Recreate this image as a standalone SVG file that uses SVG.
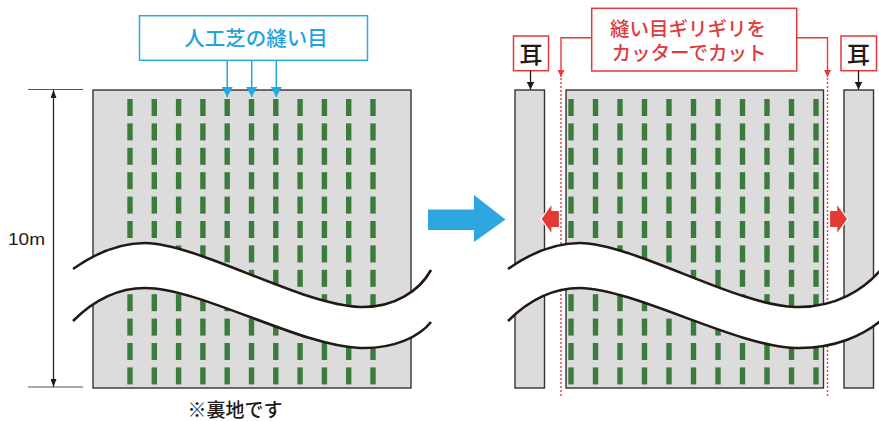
<svg xmlns="http://www.w3.org/2000/svg" width="879" height="421" viewBox="0 0 879 421">
<defs>
<style>
.panel{fill:#dcdcdc;stroke:#333;stroke-width:1.4}
.dash{fill:#3b7b3c}
.wave{fill:none;stroke:#231815;stroke-width:2.6}
.band{fill:#fff;stroke:none}
.jp{font-family:"Noto Sans CJK JP","Noto Sans",sans-serif}
.red{fill:#e23a3c}
.blue{fill:#1fa3dd}
.redline{fill:none;stroke:#e23a3c;stroke-width:1.4}
.dotline{fill:none;stroke:#e8474a;stroke-width:1.5;stroke-dasharray:2 2}
</style>
<marker id="ahBlue" viewBox="0 0 10 11" refX="10" refY="5.5" markerWidth="10" markerHeight="11" markerUnits="userSpaceOnUse" orient="auto"><path d="M0,0 L10,5.5 L0,11 Z" fill="#1fa8e1"/></marker>
<marker id="ahRed" viewBox="0 0 7 7" refX="7" refY="3.5" markerWidth="7" markerHeight="7" markerUnits="userSpaceOnUse" orient="auto"><path d="M0,0 L7,3.5 L0,7 Z" fill="#e23a3c"/></marker>
<marker id="ahBlack" viewBox="0 0 8 8" refX="8" refY="4" markerWidth="8" markerHeight="8" markerUnits="userSpaceOnUse" orient="auto"><path d="M0,0 L8,4 L0,8 Z" fill="#231815"/></marker>
<marker id="ahDim" viewBox="0 0 8 6" refX="8" refY="3" markerWidth="8" markerHeight="6" markerUnits="userSpaceOnUse" orient="auto-start-reverse"><path d="M0,0 L8,3 L0,6 Z" fill="#231815"/></marker>
<g id="colL"><rect class="dash" x="-2.7" y="0" width="5.4" height="17"/><rect class="dash" x="-2.7" y="24.4" width="5.4" height="17"/><rect class="dash" x="-2.7" y="48.8" width="5.4" height="17"/><rect class="dash" x="-2.7" y="73.2" width="5.4" height="17"/><rect class="dash" x="-2.7" y="97.6" width="5.4" height="17"/><rect class="dash" x="-2.7" y="122" width="5.4" height="17"/><rect class="dash" x="-2.7" y="146.4" width="5.4" height="17"/><rect class="dash" x="-2.7" y="170.8" width="5.4" height="17"/><rect class="dash" x="-2.7" y="195.2" width="5.4" height="17"/><rect class="dash" x="-2.7" y="219.6" width="5.4" height="17"/><rect class="dash" x="-2.7" y="244" width="5.4" height="17"/><rect class="dash" x="-2.7" y="268.4" width="5.4" height="17"/></g>
</defs>
<rect width="879" height="421" fill="#fff"/>

<!-- Left panel -->
<g id="left-turf">
<rect class="panel" x="93" y="90" width="318" height="298"/>
<g transform="translate(0,99)">
<use href="#colL" x="130"/><use href="#colL" x="154.3"/><use href="#colL" x="178.6"/><use href="#colL" x="202.9"/><use href="#colL" x="227.2"/><use href="#colL" x="251.5"/><use href="#colL" x="275.8"/><use href="#colL" x="300.1"/><use href="#colL" x="324.4"/><use href="#colL" x="348.7"/><use href="#colL" x="373"/>
</g>
<path class="band" d="M73,269 C97,252 122,243 145,243 C200,244 300,305 360,307 C395,308 420,290 431,270 L431,322 C420,336 395,349 360,348 C300,346 200,288 145,288 C122,288 97,297 73,321 Z"/>
<path class="wave" d="M73,269 C97,252 122,243 145,243 C200,244 300,305 360,307 C395,308 420,290 431,270"/>
<path class="wave" d="M73,321 C97,297 122,288 145,288 C200,288 300,346 360,348 C395,349 420,336 431,322"/>
</g>

<!-- Right panel -->
<g id="right-turf">
<rect class="panel" x="515" y="90" width="29.5" height="298"/>
<rect class="panel" x="566" y="90" width="257.5" height="298"/>
<rect class="panel" x="844" y="90" width="29.5" height="298"/>
<g transform="translate(0,99)">
<use href="#colL" x="571"/><use href="#colL" x="595.5"/><use href="#colL" x="620"/><use href="#colL" x="644.5"/><use href="#colL" x="669"/><use href="#colL" x="693.5"/><use href="#colL" x="718"/><use href="#colL" x="742.5"/><use href="#colL" x="767"/><use href="#colL" x="791.5"/><use href="#colL" x="816"/>
</g>
<line class="dotline" x1="561" y1="78" x2="561" y2="396"/>
<line class="dotline" x1="827.5" y1="78" x2="827.5" y2="396"/>
<path class="band" d="M508,269 C532,252 557,243 580,243 C635,244 735,305 795,307 C835,308 865,290 884,266 L884,318 C865,335 835,349 795,348 C735,346 635,289 580,288 C557,288 532,297 508,321 Z"/>
<path class="wave" d="M508,269 C532,252 557,243 580,243 C635,244 735,305 795,307 C835,308 865,290 884,266"/>
<path class="wave" d="M508,321 C532,297 557,288 580,288 C635,289 735,346 795,348 C835,349 865,335 884,318"/>
</g>

<!-- Dimension -->
<g id="dimension">
<line x1="28" y1="89.5" x2="83" y2="89.5" stroke="#555" stroke-width="1"/>
<line x1="28" y1="387" x2="83" y2="387" stroke="#555" stroke-width="1"/>
<line x1="53.5" y1="90" x2="53.5" y2="387" stroke="#231815" stroke-width="1.2" marker-start="url(#ahDim)" marker-end="url(#ahDim)"/>
<text x="8" y="244.5" font-family="Liberation Sans, Arial, sans-serif" font-size="16" textLength="37" lengthAdjust="spacingAndGlyphs" fill="#231815">10m</text>
</g>

<!-- Label: seams -->
<g id="label-seams">
<rect x="139.5" y="15.7" width="228" height="44.6" fill="#fff" stroke="#29abe2" stroke-width="1.5"/>
<text class="jp blue" x="256" y="46" font-size="20.5" font-weight="500" text-anchor="middle">人工芝の縫い目</text>
</g>

<!-- Label: cut -->
<g id="label-cut">
<rect x="591.7" y="8.3" width="205" height="62.7" fill="#fff" stroke="#e23a3c" stroke-width="1.5"/>
<text class="jp red" x="688" y="35.5" font-size="19.5" font-weight="500" text-anchor="middle">縫い目ギリギリを</text>
<text class="jp red" x="689" y="59.5" font-size="19.5" font-weight="500" text-anchor="middle">カッターでカット</text>
</g>

<!-- Ear labels -->
<g id="ear-left">
<rect x="513.5" y="36" width="35" height="34.7" fill="#fff" stroke="#e23a3c" stroke-width="1.5"/>
<text class="jp" x="531" y="62.5" font-size="23" font-weight="500" text-anchor="middle" fill="#231815">耳</text>
</g>
<g id="ear-right">
<rect x="841" y="36" width="35.5" height="34.7" fill="#fff" stroke="#e23a3c" stroke-width="1.5"/>
<text class="jp" x="858.5" y="62.5" font-size="23" font-weight="500" text-anchor="middle" fill="#231815">耳</text>
</g>

<!-- Big arrow -->
<g id="big-arrow">
<polygon points="428,209.5 474,209.5 474,195 505.5,219.5 474,242 474,230 428,230" fill="#2ea7e0"/>
</g>

<!-- Red arrows -->
<g id="red-arrows">
<polygon points="541,219 552,203.5 552,210.5 559.5,210.5 559.5,227.5 552,227.5 552,234.5" fill="#e23b35" stroke="#fff" stroke-width="1.2" stroke-linejoin="miter"/>
<polygon points="847.7,219 836.7,203.5 836.7,210.5 829.5,210.5 829.5,227.5 836.7,227.5 836.7,234.5" fill="#e23b35" stroke="#fff" stroke-width="1.2" stroke-linejoin="miter"/>
</g>

<!-- Connectors -->
<g id="connectors">
<line x1="227.2" y1="60.3" x2="227.2" y2="97" stroke="#1fa8e1" stroke-width="1.5" marker-end="url(#ahBlue)"/>
<line x1="251.7" y1="60.3" x2="251.7" y2="97" stroke="#1fa8e1" stroke-width="1.5" marker-end="url(#ahBlue)"/>
<line x1="276.3" y1="60.3" x2="276.3" y2="97" stroke="#1fa8e1" stroke-width="1.5" marker-end="url(#ahBlue)"/>
<path class="redline" d="M591.7,37.7 H561 V77" marker-end="url(#ahRed)"/>
<path class="redline" d="M796.7,37.7 H827.5 V77" marker-end="url(#ahRed)"/>
<line x1="530.5" y1="70.7" x2="530.5" y2="89.5" stroke="#231815" stroke-width="1.3" marker-end="url(#ahBlack)"/>
<line x1="858.5" y1="70.7" x2="858.5" y2="89.5" stroke="#231815" stroke-width="1.3" marker-end="url(#ahBlack)"/>
</g>

<text class="jp" x="235" y="417" font-size="19" font-weight="500" text-anchor="middle" fill="#231815">※裏地です</text>
</svg>
